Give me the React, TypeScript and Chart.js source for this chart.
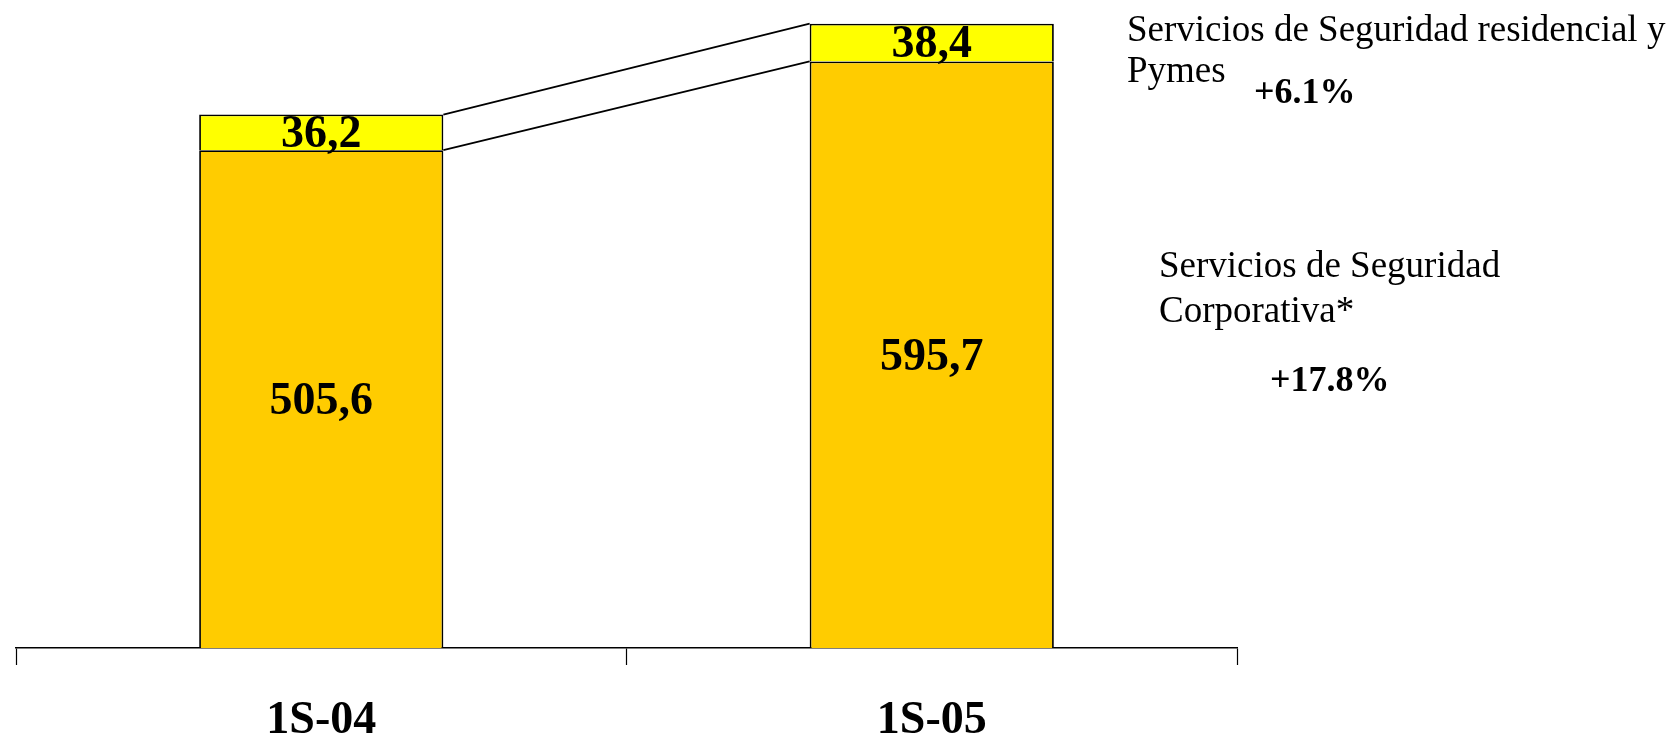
import React, { useEffect, useRef } from "react";
import { Chart, registerables } from "chart.js";

Chart.register(...registerables);

const categories = ["1S-04", "1S-05"];
const corporativa = [505.6, 595.7];
const residencial = [36.2, 38.4];
const seriesNames = ["Servicios de Seguridad Corporativa*", "Servicios de Seguridad residencial y Pymes"];
const growthLabels = ["+17.8%", "+6.1%"];

const SERIF = "'Liberation Serif', 'Times New Roman', serif";

const fmt = (v: number) => v.toFixed(1).replace(".", ",");

const overlayPlugin = {
  id: "overlay",
  afterDatasetsDraw(chart: any) {
    const ctx = chart.ctx;
    const m0 = chart.getDatasetMeta(0).data;
    const m1 = chart.getDatasetMeta(1).data;
    // connectors between bars
    ctx.save();
    ctx.strokeStyle = "#000";
    ctx.lineWidth = 1.8;
    for (const meta of [m0, m1]) {
      const a = meta[0];
      const b = meta[1];
      ctx.beginPath();
      ctx.moveTo(a.x + a.width / 2, a.y);
      ctx.lineTo(b.x - b.width / 2, b.y);
      ctx.stroke();
    }
    ctx.restore();

    // value labels
    ctx.save();
    ctx.fillStyle = "#000";
    ctx.font = `bold 46px ${SERIF}`;
    ctx.textAlign = "center";
    ctx.textBaseline = "middle";
    chart.data.datasets.forEach((ds: any, di: number) => {
      chart.getDatasetMeta(di).data.forEach((el: any, i: number) => {
        const cy = (el.y + el.base) / 2;
        ctx.fillText(fmt(ds.data[i]), el.x, cy + 3);
      });
    });
    ctx.restore();

    // right side annotations
    ctx.save();
    ctx.fillStyle = "#000";
    ctx.textAlign = "left";
    ctx.textBaseline = "alphabetic";
    ctx.font = `37px ${SERIF}`;
    const resWords = seriesNames[1];
    ctx.fillText(resWords.replace(" Pymes", ""), 1127, 41);
    ctx.fillText("Pymes", 1127, 82);
    const corp = seriesNames[0];
    ctx.fillText(corp.replace(" Corporativa*", ""), 1159, 277);
    ctx.fillText("Corporativa*", 1159, 322);
    ctx.font = `bold 36px ${SERIF}`;
    ctx.fillText(growthLabels[1], 1254, 103);
    ctx.fillText(growthLabels[0], 1270, 391);
    ctx.restore();
  },
};

export default function App() {
  const ref = useRef<HTMLCanvasElement>(null);
  useEffect(() => {
    if (!ref.current) return;
    const chart = new Chart(ref.current, {
      type: "bar",
      data: {
        labels: categories,
        datasets: [
          {
            label: seriesNames[0],
            data: corporativa,
            backgroundColor: "#FFCC00",
            borderColor: "#000",
            borderWidth: 1.8,
            barPercentage: 0.4,
            categoryPercentage: 1,
          },
          {
            label: seriesNames[1],
            data: residencial,
            backgroundColor: "#FFFF00",
            borderColor: "#000",
            borderWidth: 1.8,
            barPercentage: 0.4,
            categoryPercentage: 1,
          },
        ],
      },
      options: {
        animation: false,
        responsive: false,
        devicePixelRatio: 1,
        layout: { padding: { top: 8, left: 16, right: 436, bottom: 0 } },
        plugins: { legend: { display: false }, tooltip: { enabled: false } },
        scales: {
          x: {
            stacked: true,
            grid: {
              offset: true,
              drawOnChartArea: false,
              drawTicks: true,
              tickLength: 17,
              tickWidth: 1.2,
              tickColor: "#000",
            },
            border: { display: true, color: "#000", width: 1.5 },
            ticks: {
              color: "#000",
              padding: 33,
              font: { family: SERIF, size: 46, weight: "bold", lineHeight: 1 },
            },
          },
          y: {
            stacked: true,
            display: false,
            min: 0,
            max: 650,
          },
        },
      },
      plugins: [overlayPlugin],
    });
    return () => chart.destroy();
  }, []);
  return (
    <div style={{ position: "fixed", left: 0, top: 0, width: 1673, height: 736, background: "#fff", overflow: "hidden" }}>
      <canvas ref={ref} width={1673} height={777} style={{ display: "block" }} />
    </div>
  );
}
